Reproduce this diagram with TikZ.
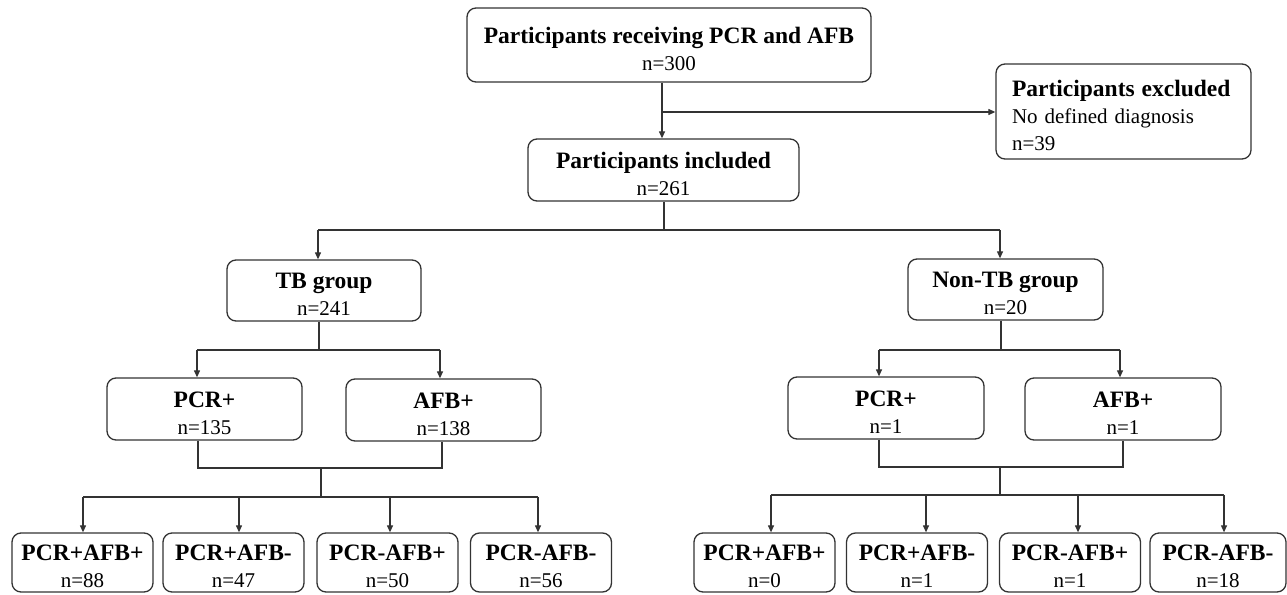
\documentclass[tikz,border=0pt]{standalone}
\usepackage{fontspec}
\setmainfont{Liberation Serif}
\usetikzlibrary{arrows.meta}
\definecolor{linec}{HTML}{333333}
\newcommand\boxtitle[1]{{\fontsize{23.5}{27}\selectfont\bfseries\rule{0pt}{23.5pt}#1}}
\begin{document}
\begin{tikzpicture}[x=1pt,y=-1pt,
  box/.style={draw=linec, line width=1.3pt, rounded corners=9pt, inner sep=0pt,
    align=center, font=\fontsize{21}{27}\selectfont},
  conn/.style={draw=linec, line width=1.2pt},
  arr/.style={conn, -{Triangle[length=7pt,width=6pt]}}]
\useasboundingbox (0,0) rectangle (1287,594);
% nodes
\node[box, minimum width=404pt, minimum height=74pt] (top) at (669,45)
  {\boxtitle{Participants receiving PCR and AFB}\\n=300};
\node[box, align=left, text width=223pt, inner xsep=16pt, minimum height=95pt] (excl) at (1123.5,111.5)
  {\boxtitle{Participants excluded}\\No defined diagnosis\\n=39};
\node[box, minimum width=271pt, minimum height=62pt] (incl) at (663.5,170)
  {\boxtitle{Participants included}\\n=261};
\node[box, minimum width=194pt, minimum height=61pt] (tb) at (324,290.5)
  {\boxtitle{TB group}\\n=241};
\node[box, minimum width=195pt, minimum height=61pt] (ntb) at (1005.5,289.5)
  {\boxtitle{Non-TB group}\\n=20};
\node[box, minimum width=195pt, minimum height=62pt] (pl) at (204.5,409)
  {\boxtitle{PCR+}\\n=135};
\node[box, minimum width=195pt, minimum height=62pt] (al) at (443.5,410)
  {\boxtitle{AFB+}\\n=138};
\node[box, minimum width=196pt, minimum height=62pt] (pr) at (886,408)
  {\boxtitle{PCR+}\\n=1};
\node[box, minimum width=196pt, minimum height=62pt] (ar) at (1123,409)
  {\boxtitle{AFB+}\\n=1};
\node[box, minimum width=141pt, minimum height=59pt] (b1) at (82.5,562.5)
  {\boxtitle{PCR+AFB+}\\n=88};
\node[box, minimum width=141pt, minimum height=59pt] (b2) at (233.5,562.5)
  {\boxtitle{PCR+AFB-}\\n=47};
\node[box, minimum width=141pt, minimum height=59pt] (b3) at (387.5,562.5)
  {\boxtitle{PCR-AFB+}\\n=50};
\node[box, minimum width=141pt, minimum height=59pt] (b4) at (541,562.5)
  {\boxtitle{PCR-AFB-}\\n=56};
\node[box, minimum width=141pt, minimum height=59pt] (c1) at (764.5,562.5)
  {\boxtitle{PCR+AFB+}\\n=0};
\node[box, minimum width=141pt, minimum height=59pt] (c2) at (917,562.5)
  {\boxtitle{PCR+AFB-}\\n=1};
\node[box, minimum width=141pt, minimum height=59pt] (c3) at (1070,562.5)
  {\boxtitle{PCR-AFB+}\\n=1};
\node[box, minimum width=136pt, minimum height=59pt] (c4) at (1218,562.5)
  {\boxtitle{PCR-AFB-}\\n=18};
% coordinates
\coordinate (j1) at (662,112);
\coordinate (j2) at (664,230);
\coordinate (tbx) at (318,230);
\coordinate (ntbx) at (1000,230);
\coordinate (j3) at (319,350);
\coordinate (pla) at (197,350);
\coordinate (ala) at (440,350);
\coordinate (m1) at (198,468);
\coordinate (m1b) at (442,468);
\coordinate (m1c) at (321,468);
\coordinate (j4) at (321,497);
\coordinate (b1a) at (83,497);
\coordinate (b2a) at (239,497);
\coordinate (b3a) at (390,497);
\coordinate (b4a) at (538,497);
\coordinate (j5) at (1001,350);
\coordinate (pra) at (879,350);
\coordinate (ara) at (1120,350);
\coordinate (m2) at (879,467);
\coordinate (m2b) at (1123,467);
\coordinate (m2c) at (1000,467);
\coordinate (j6) at (1000,495);
\coordinate (c1a) at (771,495);
\coordinate (c2a) at (926,495);
\coordinate (c3a) at (1078,495);
\coordinate (c4a) at (1224,495);
% connectors
\draw[arr] (top.south -| j1) -- (incl.north -| j1);
\draw[arr] (j1) -- (excl.west |- j1);
\draw[conn] (incl.south -| j2) -- (j2);
\draw[conn] (tbx) -- (ntbx);
\draw[arr] (tbx) -- (tb.north -| tbx);
\draw[arr] (ntbx) -- (ntb.north -| ntbx);
% TB branch
\draw[conn] (tb.south -| j3) -- (j3);
\draw[conn] (pla) -- (ala);
\draw[arr] (pla) -- (pl.north -| pla);
\draw[arr] (ala) -- (al.north -| ala);
\draw[conn] (pl.south -| m1) -- (m1) -- (m1b) -- (al.south -| m1b);
\draw[conn] (m1c) -- (j4);
\draw[conn] (b1a) -- (b4a);
\draw[arr] (b1a) -- (b1.north -| b1a);
\draw[arr] (b2a) -- (b2.north -| b2a);
\draw[arr] (b3a) -- (b3.north -| b3a);
\draw[arr] (b4a) -- (b4.north -| b4a);
% Non-TB branch
\draw[conn] (ntb.south -| j5) -- (j5);
\draw[conn] (pra) -- (ara);
\draw[arr] (pra) -- (pr.north -| pra);
\draw[arr] (ara) -- (ar.north -| ara);
\draw[conn] (pr.south -| m2) -- (m2) -- (m2b) -- (ar.south -| m2b);
\draw[conn] (m2c) -- (j6);
\draw[conn] (c1a) -- (c4a);
\draw[arr] (c1a) -- (c1.north -| c1a);
\draw[arr] (c2a) -- (c2.north -| c2a);
\draw[arr] (c3a) -- (c3.north -| c3a);
\draw[arr] (c4a) -- (c4.north -| c4a);
\end{tikzpicture}
\end{document}
